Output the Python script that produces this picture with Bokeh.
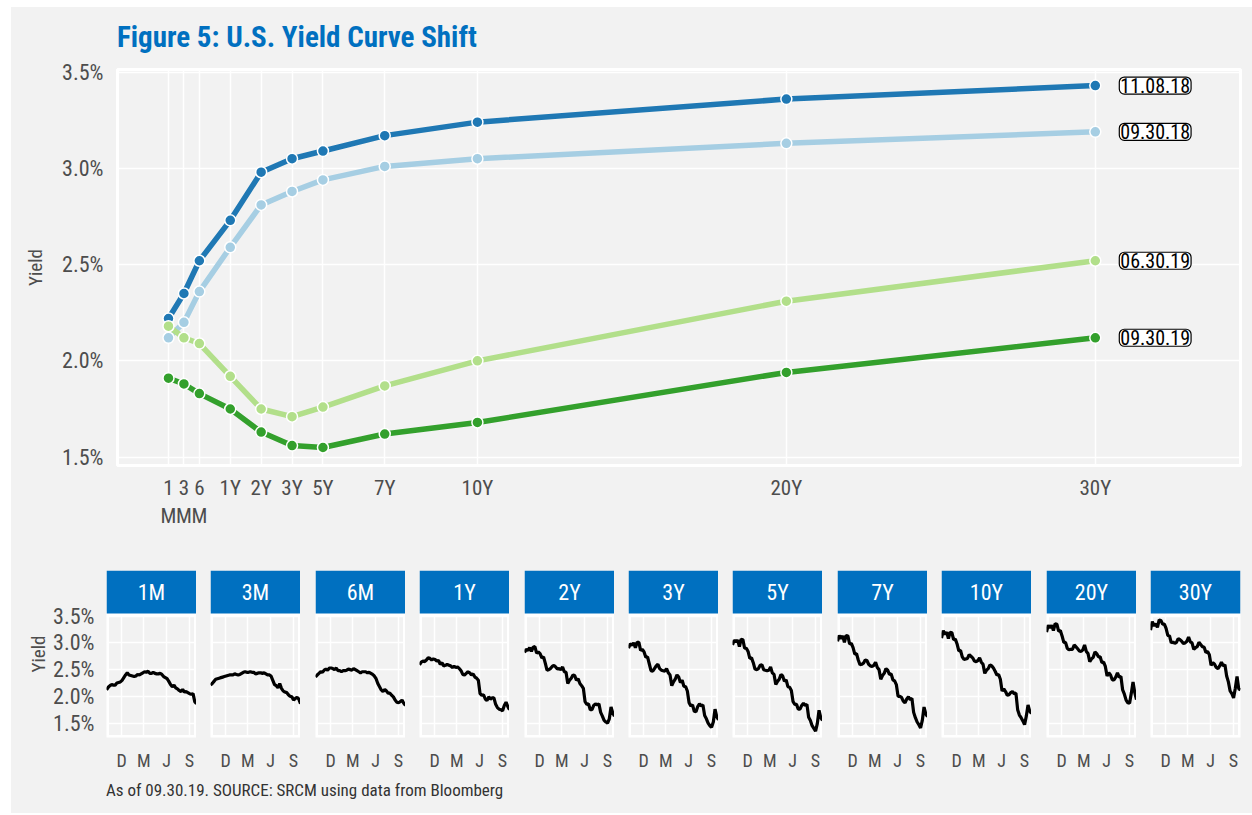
from bokeh.plotting import figure
from bokeh.layouts import column, row
from bokeh.models import Range1d, FixedTicker, PrintfTickFormatter, Div
from bokeh.embed import file_html
from bokeh.resources import INLINE
from bokeh.core.properties import value
import pandas as pd

FONT = "'Roboto Condensed', 'DejaVu Sans Condensed', sans-serif"
BG = "#f2f2f2"
BLUE = "#0070c0"
TXT = "#4d4d4d"

# ---------------- main chart data ----------------
tenors = ["1M", "3M", "6M", "1Y", "2Y", "3Y", "5Y", "7Y", "10Y", "20Y", "30Y"]
tenor_pos = [0, 1, 2, 4, 6, 8, 10, 14, 20, 40, 60]
tenor_tick_labels = ["1\nM", "3\nM", "6\nM", "1Y", "2Y", "3Y", "5Y", "7Y", "10Y", "20Y", "30Y"]

curve_names = ["09.30.18", "11.08.18", "06.30.19", "09.30.19"]
curve_colors = ["#a6cee3", "#1f78b4", "#b2df8a", "#33a02c"]
yc_093018 = [2.12, 2.20, 2.36, 2.59, 2.81, 2.88, 2.94, 3.01, 3.05, 3.13, 3.19]
yc_110818 = [2.22, 2.35, 2.52, 2.73, 2.98, 3.05, 3.09, 3.17, 3.24, 3.36, 3.43]
yc_063019 = [2.18, 2.12, 2.09, 1.92, 1.75, 1.71, 1.76, 1.87, 2.00, 2.31, 2.52]
yc_093019 = [1.91, 1.88, 1.83, 1.75, 1.63, 1.56, 1.55, 1.62, 1.68, 1.94, 2.12]
curves = [yc_093018, yc_110818, yc_063019, yc_093019]

y_ticks = [1.5, 2.0, 2.5, 3.0, 3.5]

# ---------------- small multiples data (weekly) ----------------
hist_dates = [
    "2018-10-01", "2018-10-08", "2018-10-15", "2018-10-22", "2018-10-29", "2018-11-05",
    "2018-11-12", "2018-11-19", "2018-11-26", "2018-12-03", "2018-12-10", "2018-12-17",
    "2018-12-24", "2018-12-31", "2019-01-07", "2019-01-14", "2019-01-21", "2019-01-28",
    "2019-02-04", "2019-02-11", "2019-02-18", "2019-02-25", "2019-03-04", "2019-03-11",
    "2019-03-18", "2019-03-25", "2019-04-01", "2019-04-08", "2019-04-15", "2019-04-22",
    "2019-04-29", "2019-05-06", "2019-05-13", "2019-05-20", "2019-05-27", "2019-06-03",
    "2019-06-10", "2019-06-17", "2019-06-24", "2019-07-01", "2019-07-08", "2019-07-15",
    "2019-07-22", "2019-07-29", "2019-08-05", "2019-08-12", "2019-08-19", "2019-08-26",
    "2019-09-02", "2019-09-09", "2019-09-16", "2019-09-23", "2019-09-30",
]
h_1m = [2.12, 2.17, 2.20, 2.22, 2.21, 2.21, 2.25, 2.26, 2.27, 2.30, 2.35, 2.40, 2.44, 2.40,
        2.39, 2.38, 2.37, 2.38, 2.41, 2.40, 2.42, 2.44, 2.46, 2.45, 2.47, 2.43, 2.43, 2.45,
        2.43, 2.42, 2.42, 2.43, 2.41, 2.37, 2.35, 2.33, 2.28, 2.22, 2.18, 2.21, 2.16, 2.14,
        2.11, 2.09, 2.13, 2.08, 2.09, 2.07, 2.05, 2.04, 2.05, 1.90, 1.86]
h_3m = [2.21, 2.24, 2.28, 2.32, 2.33, 2.34, 2.35, 2.36, 2.37, 2.38, 2.39, 2.40, 2.40, 2.40,
        2.42, 2.41, 2.40, 2.41, 2.43, 2.45, 2.46, 2.45, 2.45, 2.46, 2.45, 2.45, 2.42, 2.43,
        2.44, 2.44, 2.43, 2.44, 2.42, 2.40, 2.40, 2.38, 2.30, 2.22, 2.20, 2.16, 2.24, 2.15,
        2.10, 2.08, 2.07, 2.03, 2.00, 1.99, 1.93, 1.96, 1.98, 1.95, 1.86]
h_6m = [2.36, 2.40, 2.43, 2.46, 2.45, 2.49, 2.51, 2.49, 2.53, 2.53, 2.52, 2.50, 2.53, 2.48,
        2.48, 2.46, 2.48, 2.48, 2.49, 2.51, 2.50, 2.49, 2.52, 2.50, 2.48, 2.46, 2.44, 2.46,
        2.46, 2.46, 2.44, 2.45, 2.43, 2.41, 2.38, 2.33, 2.24, 2.18, 2.12, 2.09, 2.13, 2.10,
        2.06, 2.06, 2.02, 1.99, 1.93, 1.89, 1.88, 1.90, 1.93, 1.87, 1.83]
h_1y = [2.59, 2.64, 2.66, 2.65, 2.68, 2.72, 2.71, 2.68, 2.70, 2.69, 2.66, 2.67, 2.60, 2.63,
        2.57, 2.58, 2.60, 2.58, 2.57, 2.54, 2.56, 2.54, 2.55, 2.52, 2.48, 2.41, 2.40, 2.43,
        2.46, 2.44, 2.40, 2.42, 2.36, 2.34, 2.30, 2.05, 2.02, 2.03, 1.95, 1.92, 1.99, 1.95,
        1.97, 1.97, 1.85, 1.79, 1.76, 1.75, 1.73, 1.83, 1.89, 1.81, 1.75]
h_2y = [2.82, 2.88, 2.86, 2.91, 2.84, 2.92, 2.93, 2.81, 2.83, 2.80, 2.72, 2.74, 2.62, 2.49,
        2.50, 2.52, 2.56, 2.58, 2.55, 2.51, 2.52, 2.50, 2.55, 2.46, 2.45, 2.24, 2.30, 2.34,
        2.40, 2.39, 2.30, 2.33, 2.24, 2.20, 2.15, 1.90, 1.85, 1.86, 1.75, 1.75, 1.83, 1.86,
        1.84, 1.86, 1.70, 1.63, 1.55, 1.52, 1.50, 1.58, 1.80, 1.69, 1.63]
h_3y = [2.90, 2.98, 2.96, 3.00, 2.91, 3.01, 3.01, 2.86, 2.88, 2.83, 2.73, 2.74, 2.61, 2.48,
        2.47, 2.52, 2.57, 2.60, 2.52, 2.49, 2.48, 2.47, 2.52, 2.44, 2.40, 2.20, 2.27, 2.32,
        2.40, 2.36, 2.26, 2.30, 2.19, 2.18, 2.10, 1.88, 1.82, 1.84, 1.72, 1.71, 1.81, 1.86,
        1.82, 1.84, 1.64, 1.58, 1.50, 1.45, 1.42, 1.52, 1.76, 1.62, 1.56]
h_5y = [2.96, 3.05, 3.02, 3.05, 2.93, 3.07, 3.06, 2.90, 2.90, 2.84, 2.71, 2.72, 2.63, 2.51,
        2.50, 2.52, 2.58, 2.59, 2.50, 2.49, 2.48, 2.49, 2.55, 2.44, 2.41, 2.22, 2.28, 2.32,
        2.41, 2.38, 2.28, 2.31, 2.18, 2.17, 2.11, 1.90, 1.85, 1.85, 1.76, 1.76, 1.83, 1.87,
        1.83, 1.85, 1.61, 1.55, 1.45, 1.40, 1.35, 1.49, 1.74, 1.60, 1.55]
h_7y = [3.03, 3.14, 3.08, 3.13, 3.01, 3.14, 3.13, 2.98, 2.99, 2.91, 2.79, 2.80, 2.68, 2.59,
        2.60, 2.62, 2.68, 2.67, 2.60, 2.57, 2.56, 2.58, 2.64, 2.54, 2.50, 2.32, 2.39, 2.43,
        2.52, 2.49, 2.41, 2.42, 2.31, 2.29, 2.22, 2.00, 2.00, 1.98, 1.91, 1.88, 1.95, 1.99,
        1.94, 1.96, 1.70, 1.60, 1.52, 1.47, 1.41, 1.55, 1.80, 1.67, 1.62]
h_10y = [3.09, 3.23, 3.16, 3.20, 3.08, 3.20, 3.19, 3.06, 3.07, 2.98, 2.85, 2.86, 2.74, 2.69,
         2.70, 2.71, 2.78, 2.75, 2.72, 2.66, 2.65, 2.67, 2.72, 2.64, 2.60, 2.43, 2.49, 2.52,
         2.59, 2.57, 2.53, 2.47, 2.40, 2.41, 2.32, 2.10, 2.14, 2.09, 2.02, 2.03, 2.07, 2.09,
         2.05, 2.06, 1.75, 1.65, 1.60, 1.54, 1.47, 1.63, 1.84, 1.72, 1.68]
h_20y = [3.20, 3.33, 3.28, 3.33, 3.23, 3.36, 3.35, 3.22, 3.23, 3.13, 3.01, 3.01, 2.90, 2.87,
         2.88, 2.88, 2.96, 2.93, 2.89, 2.85, 2.84, 2.87, 2.96, 2.84, 2.80, 2.65, 2.70, 2.73,
         2.83, 2.80, 2.74, 2.74, 2.63, 2.64, 2.56, 2.38, 2.44, 2.40, 2.31, 2.31, 2.36, 2.44,
         2.36, 2.37, 2.12, 2.04, 1.93, 1.88, 1.87, 2.06, 2.27, 2.07, 1.94]
h_30y = [3.24, 3.40, 3.32, 3.36, 3.29, 3.43, 3.42, 3.35, 3.35, 3.27, 3.14, 3.13, 3.00, 3.02,
         2.99, 3.01, 3.08, 3.06, 3.03, 2.99, 3.00, 3.03, 3.11, 3.02, 3.00, 2.88, 2.91, 2.93,
         3.01, 2.97, 2.93, 2.92, 2.82, 2.84, 2.78, 2.58, 2.63, 2.60, 2.54, 2.52, 2.57, 2.64,
         2.57, 2.59, 2.38, 2.27, 2.10, 2.05, 1.97, 2.15, 2.37, 2.14, 2.12]
histories = [h_1m, h_3m, h_6m, h_1y, h_2y, h_3y, h_5y, h_7y, h_10y, h_20y, h_30y]

month_tick_dates = ["2018-12-01", "2019-03-01", "2019-06-01", "2019-09-01"]
month_tick_labels = ["D", "M", "J", "S"]

title_text = "Figure 5: U.S. Yield Curve Shift"
caption_text = "As of 09.30.19. SOURCE: SRCM using data from Bloomberg"

pct_fmt = PrintfTickFormatter(format="%.1f%%")


def style_common(p):
    p.background_fill_color = BG
    p.border_fill_color = BG
    p.outline_line_color = "white"
    p.outline_line_width = 3
    for ax in p.axis:
        ax.axis_line_color = None
        ax.major_tick_line_color = None
        ax.minor_tick_line_color = None
        ax.major_tick_out = 0
        ax.major_tick_in = 0
        ax.major_label_text_font = FONT
        ax.major_label_text_color = TXT
        ax.axis_label_text_font = FONT
        ax.axis_label_text_font_style = "normal"
        ax.axis_label_text_color = TXT
    for g in p.grid:
        g.grid_line_color = "white"
        g.grid_line_width = 1.5
        g.minor_grid_line_color = None


# ---------------- title ----------------
title_div = Div(text=title_text, width=1241, height=50, margin=0,
                styles={"background-color": BG, "font-family": FONT, "font-size": "29px",
                        "font-weight": "bold", "color": BLUE, "padding-left": "106px",
                        "padding-top": "15px", "line-height": "30px",
                        "box-sizing": "border-box", "white-space": "nowrap"})

# ---------------- main figure ----------------
main = figure(width=1241, height=488, x_range=Range1d(-3.3, 69.4), y_range=Range1d(1.4565, 3.5135),
              title=None, output_backend="svg", toolbar_location=None,
              min_border_left=106, min_border_right=12, min_border_top=12, min_border_bottom=80)
style_common(main)

main.xaxis.ticker = FixedTicker(ticks=tenor_pos)
main.xaxis.major_label_overrides = {p: l for p, l in zip(tenor_pos, tenor_tick_labels)}
main.xaxis.major_label_text_font_size = "21px"
main.xaxis.major_label_standoff = 10
main.xgrid.ticker = FixedTicker(ticks=tenor_pos)

main.yaxis.ticker = FixedTicker(ticks=y_ticks)
main.yaxis.formatter = pct_fmt
main.yaxis.major_label_text_font_size = "22px"
main.yaxis.major_label_standoff = 14
main.yaxis.axis_label = "Yield"
main.yaxis.axis_label_text_font_size = "19px"
main.yaxis.axis_label_standoff = 12
main.ygrid.ticker = FixedTicker(ticks=y_ticks)

for name, col, ys in zip(curve_names, curve_colors, curves):
    main.line(tenor_pos, ys, line_color=col, line_width=5.5)
    main.scatter(tenor_pos, ys, size=11, fill_color=col, line_color="white", line_width=1.5)

main.text(x=[tenor_pos[-1]] * 4, y=[c[-1] for c in curves], text=curve_names,
          x_offset=24, text_align="left", text_baseline="middle",
          text_font=value(FONT), text_font_size="20px", text_color="black",
          background_fill_color="white", border_line_color="black", border_line_width=1.2,
          border_radius=5, padding=1)

# ---------------- small multiples ----------------
dts = pd.to_datetime(hist_dates)
x_lo = pd.Timestamp(hist_dates[0])
x_hi = pd.Timestamp(hist_dates[-1])
x_mid = x_lo + (x_hi - x_lo) / 2
small_x = Range1d(x_lo, x_hi)
y_lo, y_hi = 1.23, 3.55
panel_px, strip_px = 124, 43
y_top = y_hi + strip_px * (y_hi - y_lo) / panel_px
small_y = Range1d(y_lo, y_top)
tick_ms = [pd.Timestamp(d).value / 1e6 for d in month_tick_dates]

left0 = 106
pitch = 104.4
edges = [round(left0 + pitch * k) for k in range(len(tenors))]

figs = []
for k, (ten, hist) in enumerate(zip(tenors, histories)):
    if k == 0:
        bl = edges[0] - 11
        w = bl + 90
    else:
        w = edges[k] - edges[k - 1]
        bl = w - 90
    br = 12 if k == len(tenors) - 1 else 0
    w += br

    p = figure(width=w, height=25 + strip_px + panel_px + 38, x_range=small_x, y_range=small_y,
               x_axis_type="datetime",
               output_backend="svg", toolbar_location=None,
               min_border_left=bl, min_border_right=br, min_border_top=25, min_border_bottom=38)
    style_common(p)
    p.outline_line_color = None
    p.xaxis.ticker = FixedTicker(ticks=tick_ms)
    p.xaxis.major_label_overrides = {t: l for t, l in zip(tick_ms, month_tick_labels)}
    p.xaxis.major_label_text_font_size = "18px"
    p.xaxis.major_label_standoff = 12
    p.xgrid.ticker = FixedTicker(ticks=tick_ms)
    p.yaxis.ticker = FixedTicker(ticks=y_ticks)
    p.ygrid.ticker = FixedTicker(ticks=y_ticks)
    p.yaxis.formatter = pct_fmt
    p.yaxis.major_label_text_font_size = "22px"
    p.yaxis.major_label_standoff = 12
    if k == 0:
        p.yaxis.axis_label = "Yield"
        p.yaxis.axis_label_text_font_size = "19px"
        p.yaxis.axis_label_standoff = 0
    else:
        p.yaxis.visible = False

    # panel border and strip
    p.quad(left=[x_lo], right=[x_hi], bottom=[y_lo], top=[y_hi],
           fill_color=None, line_color="white", line_width=5)
    p.quad(left=[x_lo], right=[x_hi], bottom=[y_hi], top=[y_top],
           fill_color=BLUE, line_color=None)
    p.text(x=[x_mid], y=[(y_hi + y_top) / 2], text=[ten], text_align="center",
           text_baseline="middle", text_font=value(FONT), text_font_size="22px",
           text_color="white")

    p.line(dts, hist, line_color="black", line_width=3.2)
    figs.append(p)

small_row = row(*figs, spacing=0, styles={"background-color": BG})

cap = Div(text=caption_text, width=1241, height=38, margin=0,
          styles={"background-color": BG, "font-family": FONT, "font-size": "17px",
                  "color": "#333333", "padding-left": "95px", "padding-top": "5px",
                  "box-sizing": "border-box", "line-height": "20px", "white-space": "nowrap"})

layout = column(title_div, main, small_row, cap, spacing=0, margin=(7, 0, 0, 11),
                styles={"background-color": BG})

open("out.html", "w").write(file_html(layout, INLINE))
